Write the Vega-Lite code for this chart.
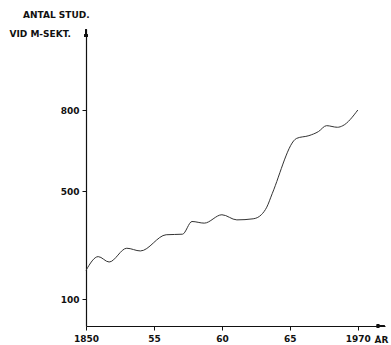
{
  "$schema": "https://vega.github.io/schema/vega-lite/v6.json",
  "width": 299,
  "height": 297,
  "autosize": {"type": "none"},
  "padding": {"left": 86, "top": 29, "right": 6, "bottom": 19},
  "background": "white",
  "title": {
    "text": "ANTAL STUD.",
    "anchor": "start",
    "frame": "group",
    "dx": -63,
    "offset": 5,
    "baseline": "middle",
    "font": "DejaVu Sans",
    "fontSize": 9,
    "fontWeight": "bold",
    "color": "#111"
  },
  "config": {
    "view": {"stroke": null},
    "axis": {
      "grid": false,
      "domainColor": "#111",
      "domainWidth": 1.2,
      "tickColor": "#111",
      "tickSize": 4,
      "labelFont": "DejaVu Sans",
      "labelFontWeight": "bold",
      "labelFontSize": 9,
      "labelColor": "#111",
      "titleFont": "DejaVu Sans",
      "titleFontWeight": "bold",
      "titleFontSize": 9,
      "titleColor": "#111"
    }
  },
  "data": {
    "values": [
      {"year": 1850.0, "students": 206},
      {"year": 1850.9, "students": 257},
      {"year": 1851.7, "students": 237},
      {"year": 1853.0, "students": 288},
      {"year": 1854.0, "students": 278},
      {"year": 1855.9, "students": 338},
      {"year": 1857.1, "students": 340},
      {"year": 1857.8, "students": 387},
      {"year": 1858.7, "students": 381},
      {"year": 1860.0, "students": 412},
      {"year": 1861.1, "students": 393},
      {"year": 1862.3, "students": 397},
      {"year": 1862.9, "students": 412},
      {"year": 1863.3, "students": 440},
      {"year": 1863.7, "students": 490},
      {"year": 1865.5, "students": 695},
      {"year": 1866.4, "students": 705},
      {"year": 1867.1, "students": 720},
      {"year": 1867.7, "students": 742},
      {"year": 1868.5, "students": 736},
      {"year": 1868.9, "students": 742},
      {"year": 1870.0, "students": 800}
    ]
  },
  "layer": [
    {
      "mark": {"type": "line", "interpolate": "monotone", "color": "#333", "strokeWidth": 1},
      "encoding": {
        "x": {
          "field": "year",
          "type": "quantitative",
          "scale": {"domain": [1850, 1872], "nice": false, "zero": false},
          "axis": {
            "values": [1850, 1855, 1860, 1865, 1870],
            "labelExpr": "datum.value == 1850 ? '1850' : datum.value == 1870 ? '1970' : datum.value == 1855 ? '55' : datum.value == 1860 ? '60' : '65'",
            "labelPadding": 4,
            "labelFlush": false,
            "title": "ÅR",
            "titleAlign": "left",
            "titleBaseline": "middle",
            "titleX": 288,
            "titleY": 13
          }
        },
        "y": {
          "field": "students",
          "type": "quantitative",
          "scale": {"domain": [0, 1100], "nice": false},
          "axis": {
            "values": [100, 500, 800],
            "labelPadding": 3,
            "title": "VID M-SEKT.",
            "titleAngle": 0,
            "titleAlign": "left",
            "titleBaseline": "middle",
            "titleX": -77,
            "titleY": 4
          }
        }
      }
    },
    {
      "mark": {"type": "point", "shape": "M0,-1L0.4,1L-0.4,1Z", "filled": true, "color": "#111", "size": 64, "opacity": 1},
      "encoding": {
        "x": {"datum": 1850, "type": "quantitative"},
        "y": {"datum": 1085, "type": "quantitative"}
      }
    },
    {
      "mark": {"type": "point", "shape": "M1,0L-1,-0.4L-1,0.4Z", "filled": true, "color": "#111", "size": 64, "opacity": 1},
      "encoding": {
        "x": {"datum": 1871.7, "type": "quantitative"},
        "y": {"datum": 0, "type": "quantitative"}
      }
    }
  ]
}
